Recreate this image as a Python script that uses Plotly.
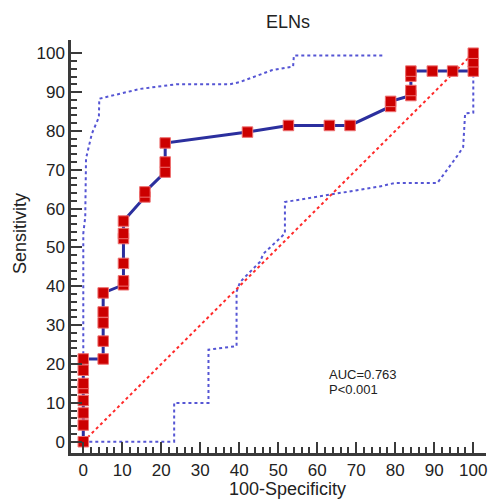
import plotly.graph_objects as go

# ROC curve points (100-Specificity, Sensitivity)
roc_x = [0, 0, 0, 0, 0, 0, 0, 0,
         5.1, 5.1, 5.1, 5.1, 5.1,
         10.3, 10.3, 10.3, 10.3, 10.3, 10.3,
         15.8, 15.8,
         21.0, 21.0, 21.0,
         42.1, 52.6, 63.1, 68.4,
         78.8, 78.8,
         84.0, 84.0, 84.0, 84.0,
         89.5, 94.7,
         100, 100, 100]
roc_y = [0, 4.3, 7.4, 10.6, 13.7, 15.0, 18.4, 21.3,
         21.3, 25.9, 30.6, 33.4, 38.3,
         40.4, 41.4, 45.9, 52.3, 53.6, 56.8,
         63.0, 64.3,
         69.4, 72.0, 76.9,
         79.7, 81.4, 81.4, 81.4,
         86.3, 87.6,
         89.1, 90.4, 94.1, 95.4,
         95.4, 95.4,
         95.4, 97.8, 100]

# Upper 95% confidence bound
upper_x = [0, 0, 0.5, 0.7, 2.2, 4.0, 4.1, 14.5, 23.9, 37.6, 40.2, 48.3, 53.8, 54.0, 76.9]
upper_y = [21.0, 53.6, 57.8, 72.9, 79.3, 83.5, 88.3, 90.8, 92.0, 92.0, 92.6, 95.6, 96.6, 99.4, 99.4]

# Lower 95% confidence bound
lower_x = [0, 23.3, 23.3, 32.1, 32.1, 39.3, 39.3, 40.2, 45.3, 46.2, 51.7, 51.7, 76.0, 79.9,
           90.8, 92.3, 95.7, 97.4, 97.9, 100, 100]
lower_y = [0, 0, 10.0, 10.0, 23.7, 24.6, 38.6, 41.1, 46.3, 48.4, 53.6, 61.7, 65.7, 66.6,
           66.6, 68.6, 73.3, 75.8, 84.5, 84.7, 100]

diag_x = [0, 100]
diag_y = [0, 100]

major_ticks = list(range(0, 101, 10))
tick_labels = [str(v) for v in major_ticks]
minor_ticks = [v for v in range(0, 101, 2) if v % 10 != 0]

title_text = "ELNs"
x_title = "100-Specificity"
y_title = "Sensitivity"
auc_text = "AUC=0.763"
p_text = "P<0.001"

FONT = "Liberation Sans, Arial, Helvetica, sans-serif"
CI_COLOR = "#5555d4"

fig = go.Figure()
fig.add_trace(go.Scatter(x=upper_x, y=upper_y, mode="lines",
                         line=dict(color=CI_COLOR, width=2, dash="dot"), hoverinfo="skip"))
fig.add_trace(go.Scatter(x=lower_x, y=lower_y, mode="lines",
                         line=dict(color=CI_COLOR, width=2, dash="dot"), hoverinfo="skip"))
fig.add_trace(go.Scatter(x=diag_x, y=diag_y, mode="lines",
                         line=dict(color="#ff2a2a", width=2, dash="dot"), hoverinfo="skip"))
fig.add_trace(go.Scatter(x=roc_x, y=roc_y, mode="lines+markers",
                         line=dict(color="#2b2f9e", width=3),
                         marker=dict(symbol="square", size=10.5, color="#cc0000",
                                     line=dict(color="#ee7070", width=1))))

axis_common = dict(
    showgrid=False, zeroline=False, showline=True, linecolor="#3a3a3a", linewidth=2.5,
    ticks="inside", ticklen=11, tickwidth=2, tickcolor="#3a3a3a",
    tickmode="array", tickvals=major_ticks, ticktext=tick_labels,
    tickfont=dict(family=FONT, size=17, color="#222222"),
    minor=dict(tickmode="array", tickvals=minor_ticks, ticks="inside", ticklen=6,
               tickwidth=1.5, tickcolor="#3a3a3a"),
)

fig.update_layout(
    width=492, height=500,
    margin=dict(l=71, r=6, t=40, b=47),
    paper_bgcolor="white", plot_bgcolor="white",
    showlegend=False,
    xaxis=dict(range=[-3.15, 103.26], **axis_common),
    yaxis=dict(range=[-2.9, 103.4], **axis_common),
    font=dict(family=FONT, color="#222222"),
)

def px_x(px):
    return (px - 71) / 415.0

def px_y(py):
    return (453 - py) / 413.0

ann = [
    dict(text=title_text, x=px_x(288), y=px_y(22.5), font=dict(size=18)),
    dict(text=x_title, x=px_x(287.5), y=px_y(489), font=dict(size=18)),
    dict(text=y_title, x=px_x(20), y=px_y(234), font=dict(size=18), textangle=-90),
]
for a in ann:
    fig.add_annotation(xref="paper", yref="paper", showarrow=False,
                       xanchor="center", yanchor="middle", **a)
fig.add_annotation(text=auc_text, xref="paper", yref="paper", x=px_x(327), y=px_y(374),
                   xanchor="left", yanchor="middle", showarrow=False, font=dict(size=13))
fig.add_annotation(text=p_text, xref="paper", yref="paper", x=px_x(327), y=px_y(389.5),
                   xanchor="left", yanchor="middle", showarrow=False, font=dict(size=13))

fig.write_html("out.html", config={"displayModeBar": False},
               post_script="document.body.style.margin='0';document.body.style.overflow='hidden';")
